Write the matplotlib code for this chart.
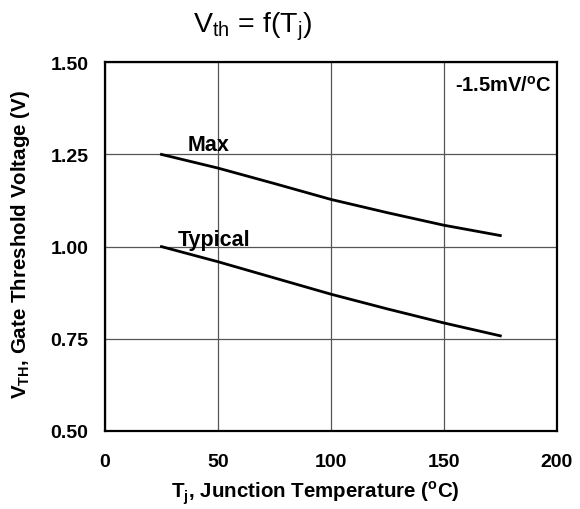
import matplotlib
matplotlib.use("Agg")
import matplotlib.pyplot as plt

matplotlib.rcParams['font.family'] = 'Liberation Sans'
matplotlib.rcParams['mathtext.fontset'] = 'custom'
matplotlib.rcParams['mathtext.rm'] = 'Liberation Sans'
matplotlib.rcParams['mathtext.bf'] = 'Liberation Sans:bold'

# data
temp_c      = [25, 50, 75, 100, 125, 150, 175]
vth_max     = [1.25, 1.213, 1.171, 1.128, 1.092, 1.058, 1.03]
vth_typical = [1.00, 0.959, 0.915, 0.871, 0.831, 0.793, 0.758]
x_ticks     = [0, 50, 100, 150, 200]
y_ticks     = [0.50, 0.75, 1.00, 1.25, 1.50]


def main():
    fig = plt.figure(figsize=(5.8, 5.1), dpi=100)
    ax = fig.add_axes([0.181, 0.153, 0.779, 0.723])

    ax.set_xlim(0, 200)
    ax.set_ylim(0.5, 1.5)
    ax.set_xticks(x_ticks)
    ax.set_yticks(y_ticks)
    ax.set_xticklabels(["%d" % v for v in x_ticks], fontweight="bold", fontsize=14)
    ax.set_yticklabels(["%.2f" % v for v in y_ticks], fontweight="bold", fontsize=14)
    ax.tick_params(axis="x", length=0, pad=16)
    ax.tick_params(axis="y", length=0, pad=12)

    ax.grid(True, color="#555555", linewidth=0.9)
    ax.set_axisbelow(True)
    for s in ax.spines.values():
        s.set_linewidth(1.6)

    ax.plot(temp_c, vth_max, color="k", linewidth=2.0)
    ax.plot(temp_c, vth_typical, color="k", linewidth=2.0)

    ax.text(46, 1.276, "Max", ha="center", va="center", fontweight="bold", fontsize=15.5)
    ax.text(48.5, 1.02, "Typical", ha="center", va="center", fontweight="bold", fontsize=15.5)
    ax.text(198, 1.438, r"-1.5mV/$^\mathbf{o}$C", ha="right", va="center",
            fontweight="bold", fontsize=14.5)

    fig.text(0.436, 0.947, r"V$_{\rm th}$ = f(T$_{\rm j}$)", ha="center", va="center",
             fontsize=20.5)
    fig.text(0.543, 0.033, r"T$_\mathbf{j}$, Junction Temperature ($^\mathbf{o}$C)",
             ha="center", va="center", fontweight="bold", fontsize=14.8)
    fig.text(0.035, 0.52, r"V$_\mathbf{TH}$, Gate Threshold Voltage (V)",
             ha="center", va="center", rotation=90, fontweight="bold", fontsize=14.8)

    fig.savefig("out.png", dpi=100)
    plt.close(fig)


if __name__ == '__main__':
    main()
